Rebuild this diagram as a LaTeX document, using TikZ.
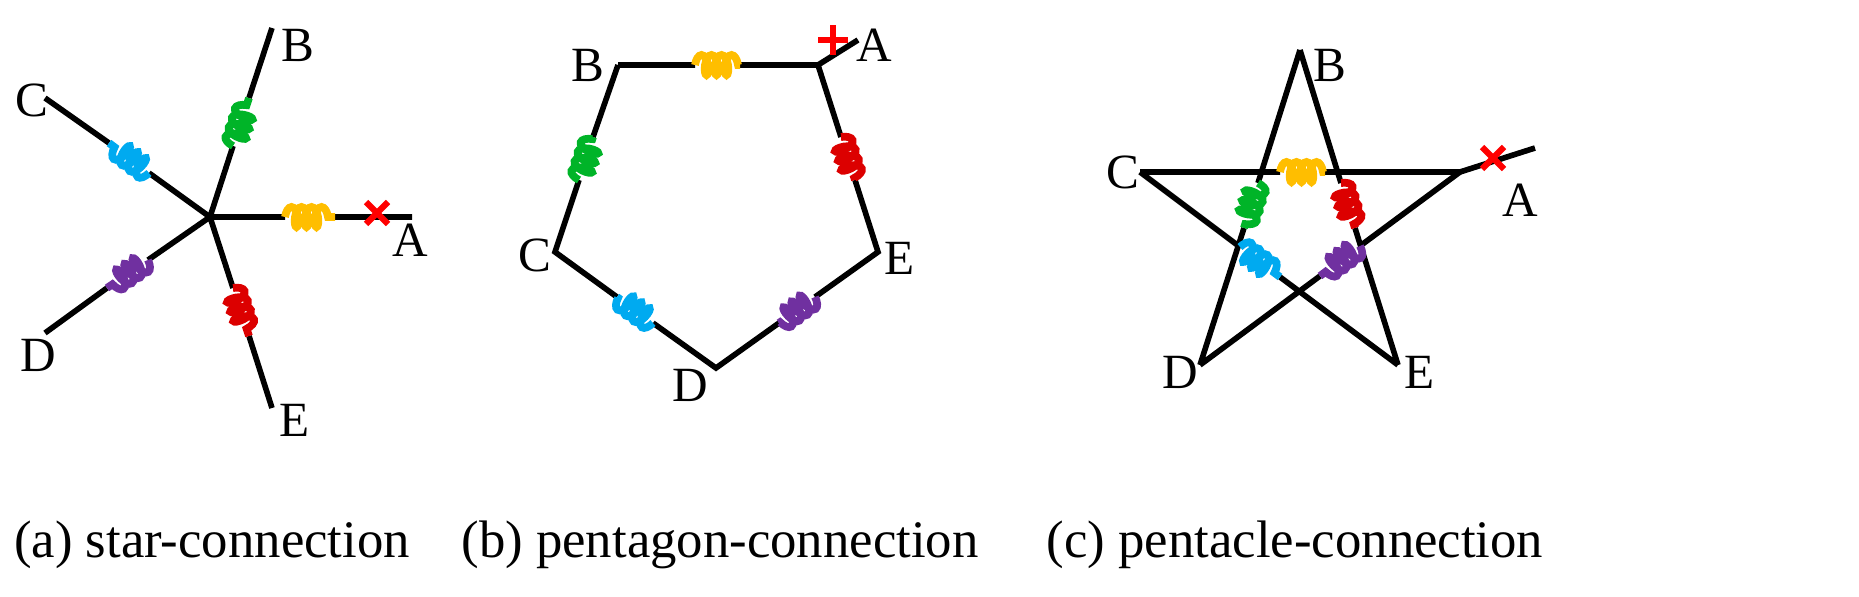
\documentclass[tikz,border=0pt]{standalone}
\usepackage{fontspec}
\setmainfont{Liberation Serif}
\usetikzlibrary{decorations.pathmorphing}
\definecolor{cy}{RGB}{255,190,0}
\definecolor{cg}{RGB}{0,180,40}
\definecolor{cb}{RGB}{0,170,240}
\definecolor{cp}{RGB}{112,48,160}
\definecolor{cr}{RGB}{220,0,0}
\begin{document}
\begin{tikzpicture}[x=0.01cm,y=-0.01cm,
  wire/.style={line width=1.6pt,black},
  coilw/.style={line width=2.2pt,decorate,decoration={coil,amplitude=0.1cm,segment length=0.1cm,aspect=0.4}},
  lbl/.style={font=\fontsize{14}{16}\selectfont,inner sep=0pt},
  captxt/.style={font=\fontsize{15}{18}\selectfont},
  xmark/.style={red,line width=1.8pt}]
% (a)
\coordinate (O) at (210,217);
\coordinate (aA) at (412,217); \coordinate (aB) at (272,28); \coordinate (aC) at (45,98);
\coordinate (aD) at (45,333); \coordinate (aE) at (272,408);
\coordinate (a1) at (285,217); \coordinate (a2) at (335,217);
\coordinate (b1) at (233,146); \coordinate (b2) at (249,98);
\coordinate (c1) at (149,173); \coordinate (c2) at (109,143);
\coordinate (d1) at (148,260); \coordinate (d2) at (107,288);
\coordinate (e1) at (233,288); \coordinate (e2) at (249,336);
\draw[wire] (O)--(a1) (a2)--(aA) (O)--(b1) (b2)--(aB) (O)--(c1) (c2)--(aC)
  (O)--(d1) (d2)--(aD) (O)--(e1) (e2)--(aE);
\draw[coilw,cy] (a1)--(a2); \draw[coilw,cg] (b1)--(b2); \draw[coilw,cb] (c1)--(c2);
\draw[coilw,cp] (d1)--(d2); \draw[coilw,cr] (e1)--(e2);
\draw[xmark] (366,202)--(388,224) (366,224)--(388,202);
\node[lbl] (tA) at (410,240) {A}; \node[lbl] (tB) at (298,45) {B};
\node[lbl] (tC) at (32,100) {C}; \node[lbl] (tD) at (38,355) {D}; \node[lbl] (tE) at (295,420) {E};
\node[captxt] (capa) at (212,545) {(a) star-connection};
% (b)
\coordinate (pA) at (818,65); \coordinate (pB) at (618,65); \coordinate (pC) at (555,252);
\coordinate (pD) at (716,368); \coordinate (pE) at (878,252); \coordinate (pX) at (858,40);
\coordinate (q1) at (695,65); \coordinate (q2) at (740,65);
\coordinate (r1) at (841,137); \coordinate (r2) at (855,180);
\coordinate (s1) at (815,297); \coordinate (s2) at (779,323);
\coordinate (t1) at (653,323); \coordinate (t2) at (617,297);
\coordinate (u1) at (579,180); \coordinate (u2) at (593,137);
\draw[wire] (pB)--(q1) (q2)--(pA)--(r1) (r2)--(pE)--(s1) (s2)--(pD)--(t1) (t2)--(pC)--(u1) (u2)--(pB);
\draw[wire] (pA)--(pX);
\draw[coilw,cy] (q1)--(q2); \draw[coilw,cr] (r1)--(r2); \draw[coilw,cp] (s1)--(s2);
\draw[coilw,cb] (t1)--(t2); \draw[coilw,cg] (u1)--(u2);
\draw[xmark] (818,40)--(848,40) (833,25)--(833,55);
\node[lbl] (uA) at (874,45) {A}; \node[lbl] (uB) at (588,65) {B}; \node[lbl] (uC) at (535,255) {C};
\node[lbl] (uD) at (690,385) {D}; \node[lbl] (uE) at (900,258) {E};
\node[captxt] (capb) at (720,545) {(b) pentagon-connection};
% (c)
\coordinate (sA) at (1460,172); \coordinate (sB) at (1300,50); \coordinate (sC) at (1140,172);
\coordinate (sD) at (1200,365); \coordinate (sE) at (1398,365); \coordinate (sX) at (1535,148);
\coordinate (v1) at (1280,172); \coordinate (v2) at (1325,172);
\coordinate (g1) at (1258,183); \coordinate (g2) at (1244,228);
\coordinate (h1) at (1341,183); \coordinate (h2) at (1355,228);
\coordinate (k1) at (1240,247); \coordinate (k2) at (1280,277);
\coordinate (m1) at (1360,246); \coordinate (m2) at (1320,276);
\draw[wire] (sC)--(v1) (v2)--(sA)--(sX);
\draw[wire] (sB)--(g1) (g2)--(sD) (sB)--(h1) (h2)--(sE)
  (sC)--(k1) (k2)--(sE) (sA)--(m1) (m2)--(sD);
\draw[coilw,cy] (v1)--(v2); \draw[coilw,cg] (g1)--(g2); \draw[coilw,cr] (h1)--(h2);
\draw[coilw,cb] (k1)--(k2); \draw[coilw,cp] (m1)--(m2);
\draw[xmark] (1482,147)--(1504,169) (1482,169)--(1504,147);
\node[lbl] (wA) at (1520,200) {A}; \node[lbl] (wB) at (1330,65) {B}; \node[lbl] (wC) at (1123,172) {C};
\node[lbl] (wD) at (1180,372) {D}; \node[lbl] (wE) at (1420,372) {E};
\node[captxt] (capc) at (1295,545) {(c) pentacle-connection};
\pgfresetboundingbox
\useasboundingbox (0,0) rectangle (1859,597);
\end{tikzpicture}
\end{document}
